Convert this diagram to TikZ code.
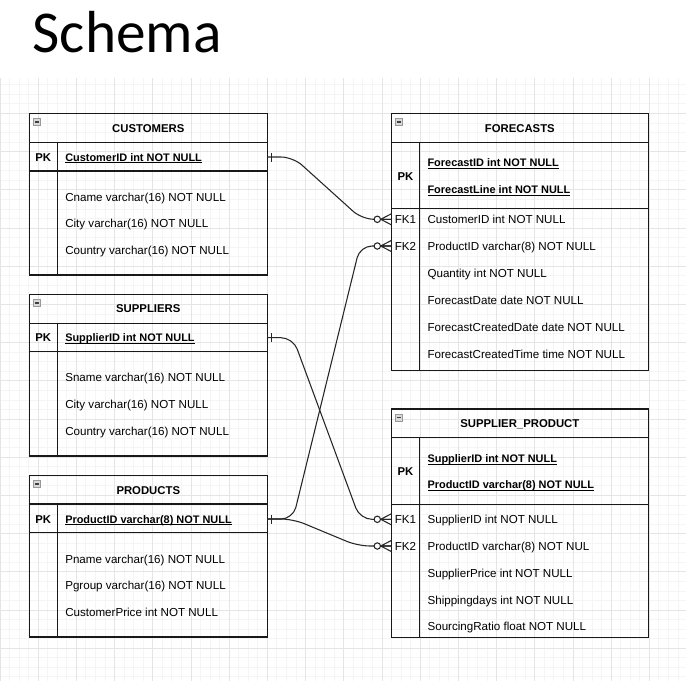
\documentclass[tikz,border=0pt]{standalone}
\usepackage{fontspec}
\setmainfont{Liberation Sans}
\newfontfamily\titlefont{Carlito}
\usetikzlibrary{fit}
\newcommand\ulin[1]{\setbox0\hbox{#1}\rlap{\rule[-1.6pt]{\wd0}{0.65pt}}\box0}
\tikzset{
  gridminor/.style={draw=black!4, line width=0.75pt},
  gridmajor/.style={draw=black!10, line width=0.75pt},
  tbl/.style={draw=black!90, line width=1pt, inner sep=0pt},
  sepline/.style={draw=black!90, line width=1pt},
  fld/.style={anchor=base west, inner sep=0pt, font=\fontsize{8.7}{10}\selectfont},
  pkfld/.style={fld, font=\fontsize{8.2}{10}\selectfont\bfseries},
  ttl/.style={anchor=base, inner sep=0pt, font=\fontsize{8.5}{10}\selectfont\bfseries},
  keylbl/.style={anchor=base, inner sep=0pt, font=\fontsize{8.7}{10}\selectfont},
  conn/.style={draw=black!85, line width=0.8pt},
  icon/.style={draw=black!40, fill=black!15, line width=0.6pt},
  pics/erone/.style={code={\draw[conn] (4,-4.5) -- (4,4.5);}},
  pics/ermany/.style={code={
    \draw[conn, fill=white] (-14,0) circle[radius=2.4pt];
    \draw[conn] (-10.6,0) -- (0,-5.5) (-10.6,0) -- (0,5.5) (-10.6,0) -- (0,0);}},
  pics/minus/.style={code={
    \draw[icon] (0,0) rectangle (7.5,7.5);
    \draw[black!75, line width=0.9pt] (1.8,3.75) -- (5.7,3.75);}}
}
\begin{document}
\begin{tikzpicture}[x=0.75pt, y=-0.75pt]
\useasboundingbox (0,0) rectangle (686,687);
% background grid
\begin{scope}
  \clip (0,78) rectangle (686,680);
  \foreach \i in {0,...,72} \draw[gridminor] ({\i*9.55},70) -- ({\i*9.55},690);
  \foreach \j in {-1,...,64} \draw[gridminor] (-5,{75.3+\j*9.55}) -- (690,{75.3+\j*9.55});
  \foreach \i in {0,...,18} \draw[gridmajor] ({\i*38.2},70) -- ({\i*38.2},690);
  \foreach \j in {0,...,16} \draw[gridmajor] (-5,{75.3+\j*38.2}) -- (690,{75.3+\j*38.2});
\end{scope}
% title
\node[anchor=base west, inner sep=0pt, font=\titlefont\fontsize{44.5}{44}\selectfont] (title) at (32.5,52) {Schema};

% ---------------- CUSTOMERS
\coordinate (cu-nw) at (29.3,113.3); \coordinate (cu-se) at (267.3,275);
\node[tbl, fit=(cu-nw)(cu-se)] (cust) {};
\draw[sepline] (29.3,142.3) -- (267.3,142.3) (29.3,171) -- (267.3,171) (57.3,142.3) -- (57.3,275);
\pic at (33.3,118.2) {minus};
\node[ttl] (cu-t) at (148.3,132) {CUSTOMERS};
\node[keylbl, font=\fontsize{8.5}{10}\selectfont\bfseries] (cu-pk) at (43.3,161) {PK};
\node[pkfld] (cu-f0) at (65,161) {\ulin{CustomerID int NOT NULL}};
\node[fld] (cu-f1) at (65,201) {Cname varchar(16) NOT NULL};
\node[fld] (cu-f2) at (65,227.5) {City varchar(16) NOT NULL};
\node[fld] (cu-f3) at (65,254) {Country varchar(16) NOT NULL};
\coordinate (custPK) at (267.3,157);

% ---------------- SUPPLIERS
\coordinate (su-nw) at (29.3,294.3); \coordinate (su-se) at (267.3,456);
\node[tbl, fit=(su-nw)(su-se)] (supp) {};
\draw[sepline] (29.3,323.3) -- (267.3,323.3) (29.3,351.7) -- (267.3,351.7) (57.3,323.3) -- (57.3,456);
\pic at (33.3,299.2) {minus};
\node[ttl] (su-t) at (148.3,312.8) {SUPPLIERS};
\node[keylbl, font=\fontsize{8.5}{10}\selectfont\bfseries] (su-pk) at (43.3,341.7) {PK};
\node[pkfld] (su-f0) at (65,341.7) {\ulin{SupplierID int NOT NULL}};
\node[fld] (su-f1) at (65,381.7) {Sname varchar(16) NOT NULL};
\node[fld] (su-f2) at (65,408.3) {City varchar(16) NOT NULL};
\node[fld] (su-f3) at (65,435) {Country varchar(16) NOT NULL};
\coordinate (suppPK) at (267.3,337.7);

% ---------------- PRODUCTS
\coordinate (pr-nw) at (29.3,475.3); \coordinate (pr-se) at (267.3,637);
\node[tbl, fit=(pr-nw)(pr-se)] (prod) {};
\draw[sepline] (29.3,504) -- (267.3,504) (29.3,532.7) -- (267.3,532.7) (57.3,504) -- (57.3,637);
\pic at (33.3,480.2) {minus};
\node[ttl] (pr-t) at (148.3,494) {PRODUCTS};
\node[keylbl, font=\fontsize{8.5}{10}\selectfont\bfseries] (pr-pk) at (43.3,523) {PK};
\node[pkfld] (pr-f0) at (65,523) {\ulin{ProductID varchar(8) NOT NULL}};
\node[fld] (pr-f1) at (65,563) {Pname varchar(16) NOT NULL};
\node[fld] (pr-f2) at (65,589.7) {Pgroup varchar(16) NOT NULL};
\node[fld] (pr-f3) at (65,616.3) {CustomerPrice int NOT NULL};
\coordinate (prodPK) at (267.3,519);

% ---------------- FORECASTS
\coordinate (fc-nw) at (391.3,113.3); \coordinate (fc-se) at (648.3,370.7);
\node[tbl, fit=(fc-nw)(fc-se)] (fcst) {};
\draw[sepline] (391.3,142.3) -- (648.3,142.3) (391.3,208.7) -- (648.3,208.7) (419.7,142.3) -- (419.7,370.7);
\pic at (395.3,118.2) {minus};
\node[ttl] (fc-t) at (519.8,132.3) {FORECASTS};
\node[keylbl, font=\fontsize{8.5}{10}\selectfont\bfseries] (fc-pk) at (405.5,180) {PK};
\node[pkfld] (fc-p1) at (427.3,166.3) {\ulin{ForecastID int NOT NULL}};
\node[pkfld] (fc-p2) at (427.3,193.3) {\ulin{ForecastLine int NOT NULL}};
\node[keylbl] (fc-k1) at (405.5,223.3) {FK1};
\node[keylbl] (fc-k2) at (405.5,250) {FK2};
\node[fld] (fc-f1) at (427.3,223.3) {CustomerID int NOT NULL};
\node[fld] (fc-f2) at (427.3,250) {ProductID varchar(8) NOT NULL};
\node[fld] (fc-f3) at (427.3,277.3) {Quantity int NOT NULL};
\node[fld] (fc-f4) at (427.3,304.7) {ForecastDate date NOT NULL};
\node[fld] (fc-f5) at (427.3,331.3) {ForecastCreatedDate date NOT NULL};
\node[fld] (fc-f6) at (427.3,358) {ForecastCreatedTime time NOT NULL};
\coordinate (fcFK1) at (391.3,219.3);
\coordinate (fcFK2) at (391.3,246);

% ---------------- SUPPLIER_PRODUCT
\coordinate (sp-nw) at (391.3,409); \coordinate (sp-se) at (648.3,637.3);
\node[tbl, fit=(sp-nw)(sp-se)] (spro) {};
\draw[sepline] (391.3,437.7) -- (648.3,437.7) (391.3,504.3) -- (648.3,504.3) (419.7,437.7) -- (419.7,637.3);
\pic at (395.3,413.9) {minus};
\node[ttl] (sp-t) at (519.8,427.3) {SUPPLIER\_PRODUCT};
\node[keylbl, font=\fontsize{8.5}{10}\selectfont\bfseries] (sp-pk) at (405.5,475.7) {PK};
\node[pkfld] (sp-p1) at (427.3,462.3) {\ulin{SupplierID int NOT NULL}};
\node[pkfld] (sp-p2) at (427.3,488.3) {\ulin{ProductID varchar(8) NOT NULL}};
\node[keylbl] (sp-k1) at (405.5,523.3) {FK1};
\node[keylbl] (sp-k2) at (405.5,550) {FK2};
\node[fld] (sp-f1) at (427.3,523.3) {SupplierID int NOT NULL};
\node[fld] (sp-f2) at (427.3,550) {ProductID varchar(8) NOT NUL};
\node[fld] (sp-f3) at (427.3,577.3) {SupplierPrice int NOT NULL};
\node[fld] (sp-f4) at (427.3,604) {Shippingdays int NOT NULL};
\node[fld] (sp-f5) at (427.3,630.7) {SourcingRatio float NOT NULL};
\coordinate (spFK1) at (391.3,519.3);
\coordinate (spFK2) at (391.3,546);

% ---------------- connectors
\draw[conn, rounded corners=9pt] (custPK) -- (293,157) -- (362,219.3) -- (fcFK1);
\draw[conn, rounded corners=9pt] (prodPK) -- (293,519) -- (360,246) -- (fcFK2);
\draw[conn, rounded corners=9pt] (suppPK) -- (293,337.7) -- (360,519.3) -- (spFK1);
\draw[conn, rounded corners=9pt] (prodPK) -- (293,519) -- (358,546) -- (spFK2);
\pic at (custPK) {erone};
\pic at (suppPK) {erone};
\pic at (prodPK) {erone};
\pic at (fcFK1) {ermany};
\pic at (fcFK2) {ermany};
\pic at (spFK1) {ermany};
\pic at (spFK2) {ermany};
\end{tikzpicture}
\end{document}
